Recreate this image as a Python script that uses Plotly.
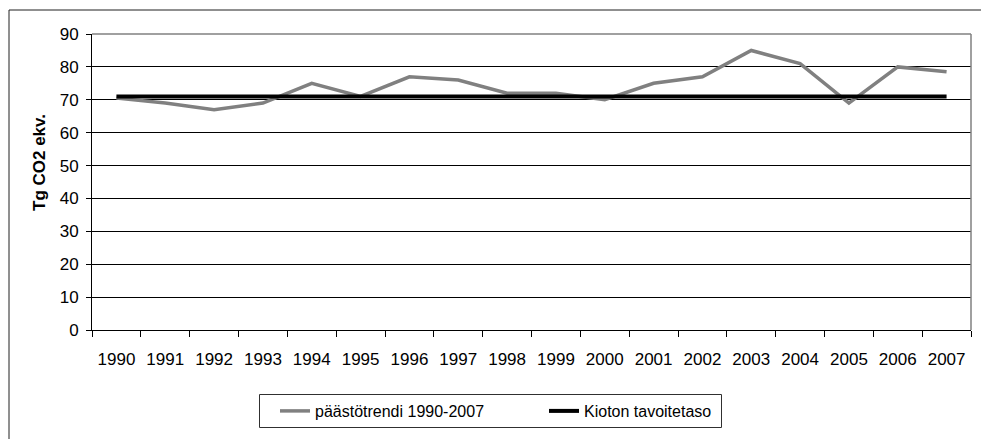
import plotly.graph_objects as go

years = [str(y) for y in range(1990, 2008)]
trend = [70.5, 69, 67, 69, 75, 71, 77, 76, 72, 72, 70, 75, 77, 85, 81, 69, 80, 78.5]
kyoto = [71] * 18
trend_name = "päästötrendi 1990-2007"
kyoto_name = "Kioton tavoitetaso"
y_title = "Tg CO2 ekv."

FONT = "Liberation Sans, Arial, sans-serif"

fig = go.Figure()
fig.add_trace(go.Scatter(x=years, y=trend, mode="lines", name=trend_name, legend="legend",
                         line=dict(color="#808080", width=3.5)))
fig.add_trace(go.Scatter(x=years, y=kyoto, mode="lines", name=kyoto_name, legend="legend2",
                         line=dict(color="#000000", width=4)))

L, T, R, B = 92, 34, 971, 330
W, H = 981, 439
pw, ph = R - L, B - T

def px_x(x):
    return (x - L) / pw

def px_y(y):
    return (B - y) / ph

leg_common = dict(orientation="h", xanchor="left", yanchor="middle", y=px_y(411),
                  borderwidth=0, bgcolor="rgba(0,0,0,0)",
                  font=dict(family=FONT, size=16, color="black"))

fig.update_layout(
    width=W, height=H,
    margin=dict(l=L, r=W - R, t=T, b=H - B, pad=0),
    paper_bgcolor="white", plot_bgcolor="white",
    font=dict(family=FONT, size=17, color="black"),
    showlegend=True,
    legend=dict(x=px_x(275), **leg_common),
    legend2=dict(x=px_x(544), **leg_common),
    xaxis=dict(type="category", range=[-0.5, 17.5], tickson="boundaries", ticks="outside",
               ticklen=6, tickcolor="black", showline=True, linecolor="black", linewidth=1,
               showgrid=False, zeroline=False, tickfont=dict(size=17), ticklabelstandoff=14),
    yaxis=dict(range=[0, 90], dtick=10, ticks="outside", ticklen=5, tickcolor="black",
               showline=True, linecolor="black", linewidth=1, showgrid=True,
               gridcolor="black", gridwidth=1, zeroline=False, tickfont=dict(size=17),
               ticklabelstandoff=4),
    annotations=[dict(text=f"<b>{y_title}</b>", textangle=-90, xref="paper", yref="paper",
                      x=px_x(39), y=px_y(163), xanchor="center", yanchor="middle",
                      showarrow=False, font=dict(family=FONT, size=17, color="black"))],
    shapes=[
        dict(type="line", xref="paper", yref="paper", x0=0, x1=1, y0=1, y1=1,
             line=dict(color="#808080", width=1.5), layer="above"),
        dict(type="line", xref="paper", yref="paper", x0=1, x1=1, y0=0, y1=1,
             line=dict(color="#808080", width=1.5), layer="above"),
        dict(type="line", xref="paper", yref="paper", x0=px_x(9), x1=px_x(981), y0=px_y(10), y1=px_y(10),
             line=dict(color="#202020", width=1)),
        dict(type="line", xref="paper", yref="paper", x0=px_x(9), x1=px_x(9), y0=px_y(10), y1=px_y(445),
             line=dict(color="#202020", width=1)),
        dict(type="rect", xref="paper", yref="paper", x0=px_x(259.5), x1=px_x(721.5),
             y0=px_y(394.5), y1=px_y(427.5), line=dict(color="#303030", width=1),
             fillcolor="white", layer="below"),
    ],
)

fig.write_html("out.html", config={"displayModeBar": False},
               post_script="document.body.style.margin='0';")
